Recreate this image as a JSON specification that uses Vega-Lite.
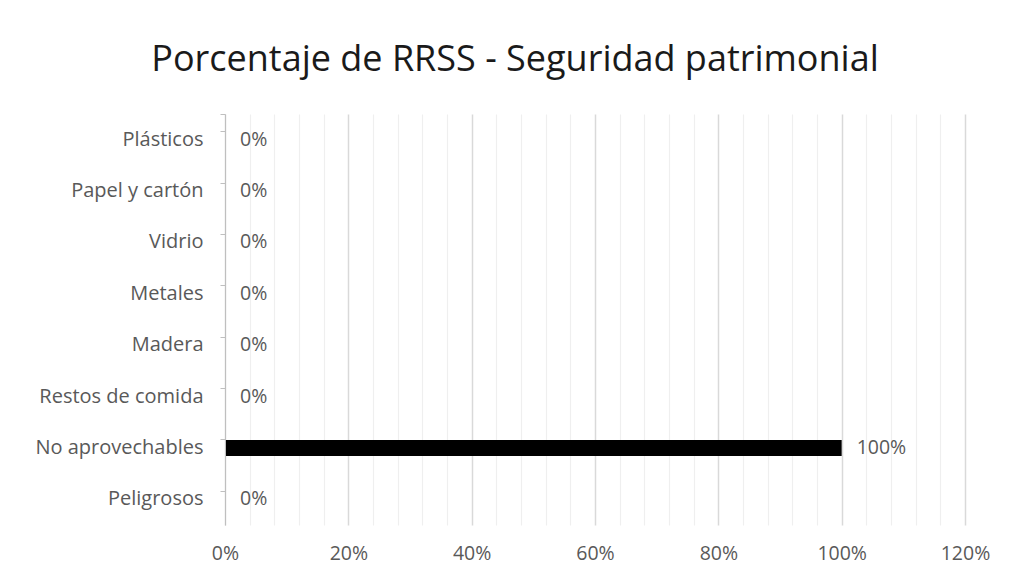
{
  "$schema": "https://vega.github.io/schema/vega-lite/v6.json",
  "width": 740,
  "height": 411,
  "autosize": {"type": "none"},
  "padding": {"left": 225, "top": 114, "right": 51, "bottom": 56},
  "background": "white",
  "title": {
    "text": "Porcentaje de RRSS - Seguridad patrimonial",
    "font": "Open Sans",
    "fontSize": 36,
    "fontWeight": "normal",
    "color": "#1a1a1a",
    "anchor": "middle",
    "dx": -80,
    "offset": 25
  },
  "data": {
    "values": [
      {"categoria": "Plásticos", "porcentaje": 0},
      {"categoria": "Papel y cartón", "porcentaje": 0},
      {"categoria": "Vidrio", "porcentaje": 0},
      {"categoria": "Metales", "porcentaje": 0},
      {"categoria": "Madera", "porcentaje": 0},
      {"categoria": "Restos de comida", "porcentaje": 0},
      {"categoria": "No aprovechables", "porcentaje": 1},
      {"categoria": "Peligrosos", "porcentaje": 0}
    ]
  },
  "encoding": {
    "y": {
      "field": "categoria",
      "type": "nominal",
      "sort": null,
      "scale": {"paddingInner": 0.69, "paddingOuter": 0.345},
      "axis": {
        "title": null,
        "labelFont": "Open Sans",
        "labelFontSize": 20,
        "labelColor": "#595959",
        "labelPadding": 17,
        "domainColor": "#bfbfbf",
        "tickColor": "#bfbfbf",
        "tickSize": 5,
        "bandPosition": 0,
        "tickExtra": true,
        "grid": false,
        "zindex": 1
      }
    },
    "x": {
      "field": "porcentaje",
      "type": "quantitative",
      "scale": {"domain": [0, 1.2], "nice": false},
      "axis": {
        "title": null,
        "values": [0, 0.04, 0.08, 0.12, 0.16, 0.2, 0.24, 0.28, 0.32, 0.36, 0.4, 0.44, 0.48, 0.52, 0.56, 0.6, 0.64, 0.68, 0.72, 0.76, 0.8, 0.84, 0.88, 0.92, 0.96, 1.0, 1.04, 1.08, 1.12, 1.16, 1.2],
        "format": ".0%",
        "labelExpr": "round(datum.value * 100) % 20 == 0 ? datum.label : ''",
        "labelFont": "Open Sans",
        "labelFontSize": 19.5,
        "labelColor": "#595959",
        "labelPadding": 19,
        "labelFlush": false,
        "domain": false,
        "ticks": false,
        "grid": true,
        "gridColor": {"condition": {"test": "round(datum.value * 100) % 20 == 0", "value": "#d9d9d9"}, "value": "#efefef"},
        "gridWidth": {"condition": {"test": "round(datum.value * 100) % 20 == 0", "value": 1.5}, "value": 1.2}
      }
    }
  },
  "layer": [
    {
      "mark": {"type": "bar", "color": "#000000"}
    },
    {
      "mark": {"type": "text", "align": "left", "dx": 15, "font": "Open Sans", "fontSize": 19.5, "color": "#595959"},
      "encoding": {
        "text": {"field": "porcentaje", "type": "quantitative", "format": ".0%"}
      }
    }
  ],
  "config": {
    "view": {"stroke": null}
  }
}
